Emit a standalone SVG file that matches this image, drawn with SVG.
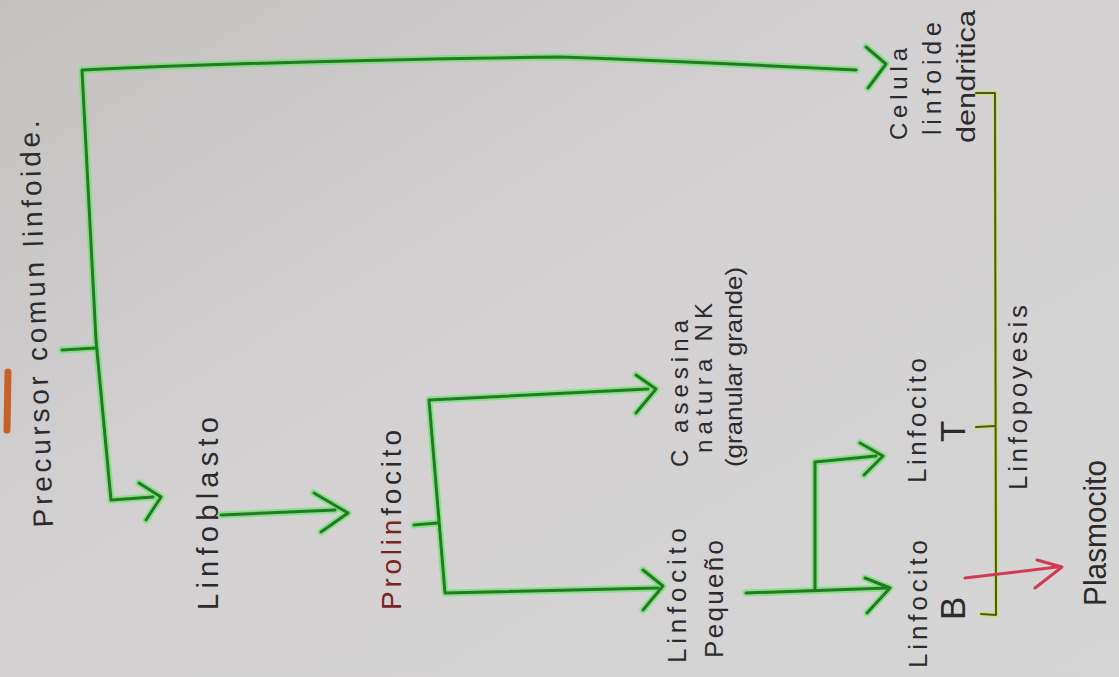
<svg xmlns="http://www.w3.org/2000/svg" width="1119" height="677" viewBox="0 0 1119 677">
<defs>
<linearGradient id="paper" x1="0" y1="0" x2="1" y2="1">
<stop offset="0" stop-color="#c4c0c0"/>
<stop offset="0.45" stop-color="#d3d1d2"/>
<stop offset="1" stop-color="#d6d5d5"/>
</linearGradient>
<style>
.t{font-family:"Liberation Sans",Arial,sans-serif;fill:#2b2b2d;}
.glow{fill:none;stroke:#6fe46f;stroke-width:7;stroke-linecap:round;stroke-linejoin:round;opacity:0.75;}
.ink{fill:none;stroke:#247a24;stroke-width:3;stroke-linecap:round;stroke-linejoin:round;}
.oglow{fill:none;stroke:#c9e24a;stroke-width:4;stroke-linecap:round;stroke-linejoin:round;opacity:0.8;}
.oink{fill:none;stroke:#4c5a14;stroke-width:2;stroke-linecap:round;stroke-linejoin:round;}
.red{fill:none;stroke:#d23a52;stroke-width:3;stroke-linecap:round;stroke-linejoin:round;}
</style>
</defs>
<rect width="1119" height="677" fill="url(#paper)"/>
<path d="M8,372 L7,430" stroke="#c8602a" stroke-width="7" stroke-linecap="round" fill="none"/>

<g id="connectors">
<path class="glow" d="M62,350 L96,348"/>
<path class="glow" d="M153,497 L111,500 L96,340 L82,70 Q300,60 560,57 Q700,62 856,70"/>
<polyline class="glow" points="866,47 886,64 868,88"/>
<polyline class="glow" points="139,483 161,497 146,520"/>
<path class="glow" d="M221,515 L335,510"/>
<polyline class="glow" points="314,493 348,513 321,532"/>
<path class="glow" d="M414,525 L437,523"/>
<path class="glow" d="M648,389 L429,400 L445,593 L658,588"/>
<polyline class="glow" points="636,375 656,389 636,413"/>
<polyline class="glow" points="643,570 663,586 643,610"/>
<path class="glow" d="M746,593 L887,588"/>
<polyline class="glow" points="865,578 890,588 867,613"/>
<path class="glow" d="M815,590 L815,462 L876,456"/>
<polyline class="glow" points="860,443 883,456 864,475"/>
<path class="ink" d="M62,350 L96,348"/>
<path class="ink" d="M153,497 L111,500 L96,340 L82,70 Q300,60 560,57 Q700,62 856,70"/>
<polyline class="ink" points="866,47 886,64 868,88"/>
<polyline class="ink" points="139,483 161,497 146,520"/>
<path class="ink" d="M221,515 L335,510"/>
<polyline class="ink" points="314,493 348,513 321,532"/>
<path class="ink" d="M414,525 L437,523"/>
<path class="ink" d="M648,389 L429,400 L445,593 L658,588"/>
<polyline class="ink" points="636,375 656,389 636,413"/>
<polyline class="ink" points="643,570 663,586 643,610"/>
<path class="ink" d="M746,593 L887,588"/>
<polyline class="ink" points="865,578 890,588 867,613"/>
<path class="ink" d="M815,590 L815,462 L876,456"/>
<polyline class="ink" points="860,443 883,456 864,475"/>
<path class="oglow" d="M976,93 L995,93 L996,615 L981,614"/>
<path class="oglow" d="M976,427 L995,426"/>
<path class="oink" d="M976,93 L995,93 L996,615 L981,614"/>
<path class="oink" d="M976,427 L995,426"/>
<path class="red" d="M965,578 L1057,567"/>
<polyline class="red" points="1037,560 1062,567 1035,588"/>
</g>

<g id="precursor"><text class="t" font-size="28" transform="translate(53,527) rotate(-92)" textLength="407" lengthAdjust="spacing">Precursor comun linfoide.</text></g>
<g id="linfoblasto"><text class="t" font-size="29" transform="translate(218,610) rotate(-90)" textLength="193" lengthAdjust="spacing">Linfoblasto</text></g>
<g id="prolinfocito"><text class="t" font-size="28" transform="translate(401,610) rotate(-90)" textLength="180" lengthAdjust="spacing"><tspan fill="#7a2424">Prolin</tspan>focito</text></g>
<g id="linfocito-pequeno">
<text class="t" font-size="26" transform="translate(686,663) rotate(-90)" textLength="135" lengthAdjust="spacing">Linfocito</text>
<text class="t" font-size="26" transform="translate(723,658) rotate(-90)" textLength="118" lengthAdjust="spacing">Pequeño</text>
</g>
<g id="nk">
<text class="t" font-size="24" transform="translate(688,467) rotate(-90)" textLength="147" lengthAdjust="spacing">C asesina</text>
<text class="t" font-size="24" transform="translate(712,453) rotate(-90)" textLength="150" lengthAdjust="spacing">natura NK</text>
<text class="t" font-size="24" transform="translate(742,467) rotate(-90)" textLength="200" lengthAdjust="spacingAndGlyphs">(granular grande)</text>
</g>
<g id="linfocito-b">
<text class="t" font-size="26" transform="translate(927,668) rotate(-90)" textLength="128" lengthAdjust="spacing">Linfocito</text>
<text class="t" font-size="35" transform="translate(965,620) rotate(-90)">B</text>
</g>
<g id="linfocito-t">
<text class="t" font-size="26" transform="translate(926,483) rotate(-90)" textLength="125" lengthAdjust="spacing">Linfocito</text>
<text class="t" font-size="35" transform="translate(965,442) rotate(-90)">T</text>
</g>
<g id="linfopoyesis"><text class="t" font-size="26" transform="translate(1027,490) rotate(-90)" textLength="185" lengthAdjust="spacing">Linfopoyesis</text></g>
<g id="plasmocito"><text class="t" font-size="32" transform="translate(1106,606) rotate(-90)" textLength="146" lengthAdjust="spacingAndGlyphs">Plasmocito</text></g>
<g id="celula-dendritica">
<text class="t" font-size="24" transform="translate(907,140) rotate(-90)" textLength="92" lengthAdjust="spacing">Celula</text>
<text class="t" font-size="25" transform="translate(941,135) rotate(-90)" textLength="113" lengthAdjust="spacing">linfoide</text>
<text class="t" font-size="25" transform="translate(975,143) rotate(-90)" textLength="133" lengthAdjust="spacingAndGlyphs">dendritica</text>
</g>
</svg>
